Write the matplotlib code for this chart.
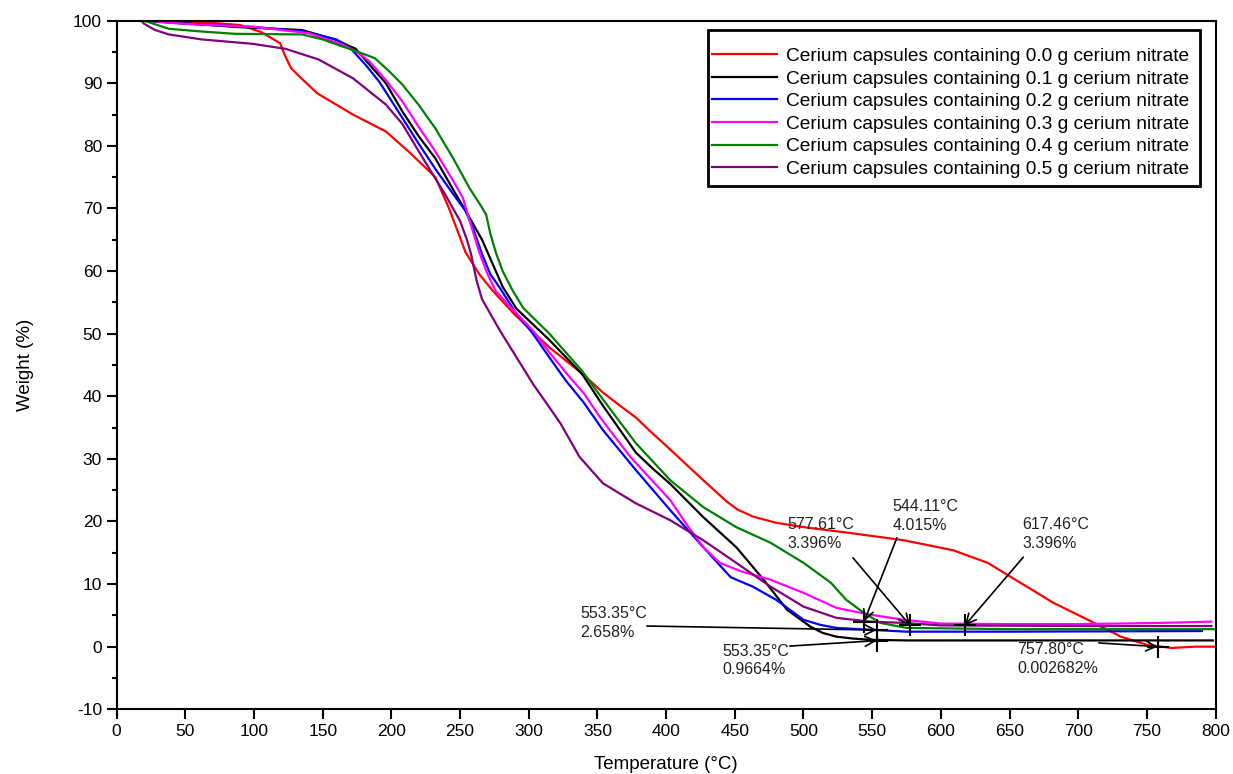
import matplotlib.pyplot as plt
from matplotlib.patches import Rectangle
from matplotlib.ticker import MultipleLocator

plt.rcParams['font.family'] = ['Liberation Sans', 'DejaVu Sans']
plt.rcParams['axes.unicode_minus'] = False

# TGA curves (temperature in degC, weight in %)
t_00 = [20, 60, 90, 105, 119, 123, 127, 132, 146, 172, 196, 213, 232, 242, 254, 264, 274, 290, 315, 339,
        354, 364, 378, 388, 403, 427, 444, 452, 463, 480, 500, 536, 573, 609, 634, 658, 682, 707, 731, 750,
        768, 785, 799]
w_00 = [100, 99.8, 99.3, 98.2, 96.4, 94.2, 92.4, 91.3, 88.4, 85, 82.3, 79, 75, 70, 63, 59.5, 56.8, 53, 47.8, 43.6,
        40.6, 38.9, 36.6, 34.5, 31.5, 26.6, 23.2, 21.9, 20.8, 19.8, 19.1, 18.1, 17.0, 15.4, 13.4, 10.2, 7, 4.3, 1.6, 0.3,
        -0.2, 0, 0]

t_01 = [20, 50, 86, 135, 159, 174, 184, 196, 208, 220, 232, 245, 257, 266, 274, 281, 291, 303, 315, 339,
        354, 378, 390, 403, 427, 451, 471, 488, 505, 514, 524, 536, 549, 575, 650, 798]
w_01 = [100, 99.6, 99, 98.5, 97, 95.5, 93, 90, 85.5, 81.5, 78, 73, 68.5, 65, 61, 57.5, 54, 51.5, 49, 43.5,
        38.5, 31, 28.5, 26, 20.7, 15.9, 10.7, 5.9, 3.2, 2.2, 1.6, 1.3, 1.1, 1.0, 1.0, 1.0]

t_02 = [20, 50, 100, 135, 160, 171, 181, 191, 205, 220, 233, 245, 254, 260, 266, 272, 279, 290, 303, 315,
        327, 340, 354, 378, 403, 427, 447, 463, 480, 500, 512, 524, 549, 575, 650, 790]
w_02 = [100, 99.5, 99, 98.3, 97, 95.4, 93, 90.3, 85.5, 80.3, 76, 72.3, 69.6, 66.5, 62.7, 59.5, 57.3, 53.5, 50, 46.2,
        42.5, 39, 34.6, 28.2, 21.8, 15.9, 11.1, 9.6, 7.5, 4.3, 3.5, 3.0, 2.7, 2.4, 2.4, 2.5]

t_03 = [20, 50, 100, 140, 164, 175, 184, 196, 208, 220, 232, 245, 252, 257, 264, 270, 276, 290, 303, 315,
        330, 340, 352, 374, 390, 403, 415, 427, 439, 455, 476, 500, 524, 549, 573, 600, 650, 700, 760, 797]
w_03 = [100, 99.5, 99, 98, 96.2, 95, 93.5, 90.5, 87.1, 83, 79.1, 74.4, 71.7, 68, 63, 59.5, 56.8, 53.5, 50.5, 47,
        43, 40.5, 36.6, 30.3, 26.5, 23.4, 19.5, 15.9, 13.4, 12, 10.7, 8.6, 6.2, 5.1, 4.3, 3.7, 3.6, 3.6, 3.8, 4.0]

t_04 = [20, 38, 60, 86, 135, 150, 164, 176, 188, 198, 208, 220, 232, 245, 257, 265, 269, 272, 276, 281,
        288, 296, 315, 339, 354, 378, 403, 427, 451, 476, 500, 520, 531, 544, 556, 575, 650, 800]
w_04 = [100, 98.7, 98.3, 97.9, 97.8, 97, 95.9, 95, 94, 92, 89.8, 86.5, 82.8, 78, 73.2, 70.5, 69, 66, 63, 60,
        57, 54.1, 50, 44, 39.5, 32.5, 26.6, 22.3, 19.1, 16.6, 13.4, 10.2, 7.5, 5.4, 3.8, 3.0, 2.8, 2.8]

t_05 = [18, 20, 28, 38, 62, 99, 123, 147, 172, 196, 208, 220, 230, 239, 250, 255, 258, 262, 266, 279,
        303, 323, 337, 354, 378, 403, 427, 451, 476, 500, 524, 549, 573, 600, 700, 797]
w_05 = [100, 99.5, 98.5, 97.8, 97, 96.3, 95.5, 93.8, 90.8, 86.6, 83.5, 79.1, 75.5, 72.3, 68, 65, 62.7, 58.5, 55.5, 50.5,
        42, 35.7, 30.3, 26.1, 22.9, 20.2, 17, 13.4, 9.6, 6.4, 4.6, 4.0, 3.8, 3.4, 3.3, 3.3]

labels = ["Cerium capsules containing 0.0 g cerium nitrate",
          "Cerium capsules containing 0.1 g cerium nitrate",
          "Cerium capsules containing 0.2 g cerium nitrate",
          "Cerium capsules containing 0.3 g cerium nitrate",
          "Cerium capsules containing 0.4 g cerium nitrate",
          "Cerium capsules containing 0.5 g cerium nitrate"]
colors = ["#ff0000", "#000000", "#0000ff", "#ff00ff", "#008000", "#800080"]

# annotated points and where their labels / arrow tails sit
ann_t = [544.11, 577.61, 617.46, 553.35, 553.35, 757.80]
ann_w = [4.015, 3.396, 3.396, 2.658, 0.9664, 0.002682]
ann_text = ["544.11°C\n4.015%", "577.61°C\n3.396%", "617.46°C\n3.396%",
            "553.35°C\n2.658%", "553.35°C\n0.9664%", "757.80°C\n0.002682%"]
text_x = [564.8, 488.3, 659.4, 337.5, 440.9, 655.8]
text_y = [23.6, 20.7, 20.7, 6.5, 0.45, 0.75]
start_x = [568, 536, 660, 386, 490, 715]
start_y = [17.4, 14.2, 14.3, 3.3, 0.1, 0.6]

fig = plt.figure(figsize=(12.33, 7.74), dpi=100)
ax = fig.add_axes([0.0946, 0.0836, 0.8913, 0.8897])

series = [(t_00, w_00), (t_01, w_01), (t_02, w_02), (t_03, w_03), (t_04, w_04), (t_05, w_05)]
for (t, w), lab, c in zip(series, labels, colors):
    ax.plot(t, w, color=c, lw=1.6, label=lab)

for i in range(len(ann_t)):
    ax.annotate("", xy=(ann_t[i], ann_w[i]), xytext=(start_x[i], start_y[i]),
                arrowprops=dict(arrowstyle="->", color="black", lw=1.2,
                                mutation_scale=18, shrinkA=0, shrinkB=0))
    ax.plot(ann_t[i], ann_w[i], marker="+", color="black", ms=16, mew=1.5)
    ax.text(text_x[i], text_y[i], ann_text[i], ha="left", va="top",
            fontsize=11.5, color="#222222", linespacing=1.3)

ax.set_xlim(0, 800)
ax.set_ylim(-10, 100)
ax.xaxis.set_major_locator(MultipleLocator(50))
ax.yaxis.set_major_locator(MultipleLocator(10))
ax.yaxis.set_minor_locator(MultipleLocator(5))
ax.tick_params(axis="both", which="major", direction="out", length=7, width=1.5,
               labelsize=12.5, top=False, right=False)
ax.tick_params(axis="y", which="minor", direction="out", length=3.5, width=1.5)
for s in ax.spines.values():
    s.set_linewidth(1.5)

ax.set_xlabel("Temperature (°C)", fontsize=13.5, labelpad=12)
ax.set_ylabel("Weight (%)", fontsize=13.5, labelpad=28)

# legend box drawn by hand so the padding matches
box = Rectangle((0.538, 0.760), 0.4478, 0.2265, transform=ax.transAxes,
                facecolor="white", edgecolor="black", lw=2, zorder=4)
ax.add_patch(box)
ax.legend(loc="upper left", bbox_to_anchor=(0.5418, 0.961), borderaxespad=0,
          fontsize=13.8, handlelength=3.4, handletextpad=0.46, labelspacing=0.27,
          borderpad=0, frameon=False)

fig.savefig("out.png", dpi=100)
